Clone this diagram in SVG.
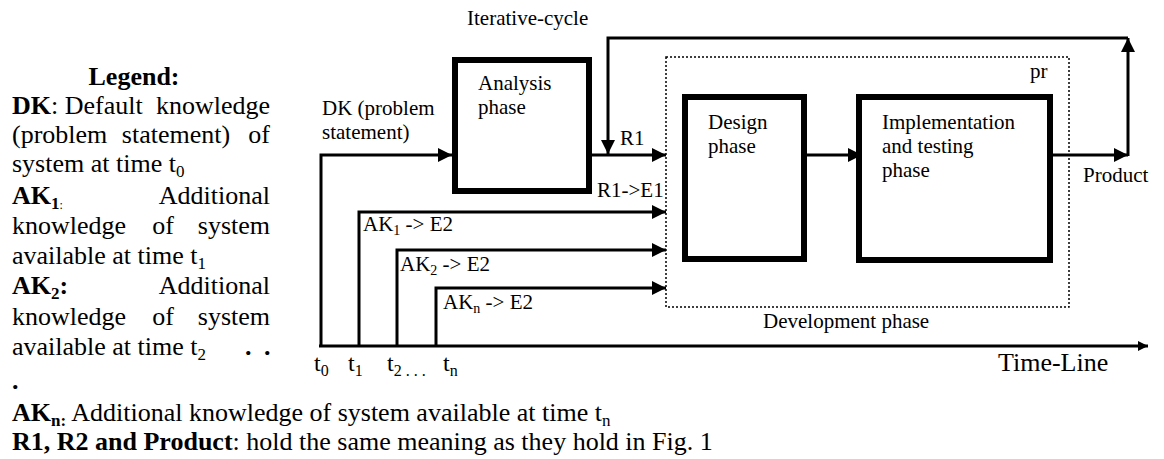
<svg xmlns="http://www.w3.org/2000/svg" width="1164" height="459" viewBox="0 0 1164 459" font-family="'Liberation Serif','Times New Roman',serif">
<style>
text{font-family:"Liberation Serif","Times New Roman",serif;fill:#000}
.lg{font-family:"Liberation Serif","Times New Roman",serif;font-size:26px}
.dg{font-family:"Liberation Serif","Times New Roman",serif;font-size:21px}
.b{font-weight:bold}
.conn{fill:none;stroke:#000;stroke-width:3}
.box{fill:#fff;stroke:#000;stroke-width:6}
.dot{fill:none;stroke:#000;stroke-width:1.5;stroke-dasharray:2 2}
</style>
<defs>
<marker id="ah" viewBox="0 0 10 10" refX="10" refY="5" markerUnits="userSpaceOnUse" markerWidth="15" markerHeight="14" orient="auto"><path d="M0,0 L10,5 L0,10 z" fill="#000"/></marker>
<marker id="ahs" viewBox="0 0 10 10" refX="10" refY="5" markerUnits="userSpaceOnUse" markerWidth="11" markerHeight="10" orient="auto"><path d="M0,0 L10,5 L0,10 z" fill="#000"/></marker>
</defs>
<rect width="1164" height="459" fill="#fff"/>

<g id="legend" class="lg">
<text x="134" y="85" text-anchor="middle" class="b">Legend:</text>
<text y="114"><tspan x="12" class="b">DK</tspan>: Default<tspan x="270" text-anchor="end">knowledge</tspan></text>
<text y="143"><tspan x="12">(problem</tspan><tspan x="176" text-anchor="middle">statement)</tspan><tspan x="270" text-anchor="end">of</tspan></text>
<text y="172"><tspan x="12">system at time t</tspan><tspan font-size="17" dy="5">0</tspan></text>
<text y="204"><tspan x="12" class="b">AK</tspan><tspan class="b" font-size="17" dy="5">1</tspan><tspan font-size="12">:</tspan><tspan x="270" y="204" text-anchor="end">Additional</tspan></text>
<text y="234"><tspan x="12">knowledge</tspan><tspan x="163" text-anchor="middle">of</tspan><tspan x="270" text-anchor="end">system</tspan></text>
<text y="264"><tspan x="12">available at time t</tspan><tspan font-size="17" dy="5">1</tspan></text>
<text y="294"><tspan x="12" class="b">AK</tspan><tspan class="b" font-size="17" dy="5">2</tspan><tspan class="b" dy="-5">:</tspan><tspan x="270" text-anchor="end">Additional</tspan></text>
<text y="325"><tspan x="12">knowledge</tspan><tspan x="163" text-anchor="middle">of</tspan><tspan x="270" text-anchor="end">system</tspan></text>
<text y="355"><tspan x="12">available at time t</tspan><tspan font-size="17" dy="5">2</tspan><tspan x="245" y="355" class="b">.</tspan><tspan x="264" y="355" class="b">.</tspan></text>
<text x="12" y="389" class="b">.</text>
<text y="421"><tspan x="12" class="b">AK</tspan><tspan class="b" font-size="17" dy="5">n:</tspan><tspan dy="-5"> Additional knowledge of system available at time t</tspan><tspan font-size="17" dy="5">n</tspan></text>
<text y="450"><tspan x="12" class="b">R1, R2 and Product</tspan>:  hold the same meaning as they hold in Fig. 1</text>
</g>

<g id="development-phase">
<rect class="dot" x="666" y="57" width="403" height="250"/>
<text class="dg" x="1030" y="78">pr</text>
<text class="dg" x="763" y="328">Development phase</text>
</g>

<g id="analysis-phase">
<rect class="box" x="455" y="60" width="134" height="131"/>
<text class="dg" x="478" y="90">Analysis</text>
<text class="dg" x="478" y="114">phase</text>
</g>

<g id="design-phase">
<rect class="box" x="685" y="97" width="119" height="162"/>
<text class="dg" x="708" y="129">Design</text>
<text class="dg" x="708" y="153">phase</text>
</g>

<g id="implementation-phase">
<rect class="box" x="859" y="97" width="191" height="163"/>
<text class="dg" x="882" y="129">Implementation</text>
<text class="dg" x="882" y="153">and testing</text>
<text class="dg" x="882" y="177">phase</text>
</g>

<g id="connectors">
<path class="conn" d="M321,345 V155 H452" marker-end="url(#ah)"/>
<path class="conn" d="M592,155 H666" marker-end="url(#ah)"/>
<path class="conn" d="M807,155 H862" marker-end="url(#ah)"/>
<path class="conn" d="M1053,155 H1128" marker-end="url(#ah)"/>
<path class="conn" d="M1128,156 V38" marker-end="url(#ah)"/>
<path class="conn" stroke-width="2.5" d="M1128,38 H608 V154" marker-end="url(#ah)"/>
<path class="conn" d="M359,345 V212 H666" marker-end="url(#ah)"/>
<path class="conn" d="M397,345 V250 H666" marker-end="url(#ah)"/>
<path class="conn" d="M436,345 V288 H666" marker-end="url(#ah)"/>
<path class="conn" stroke-width="4.5" d="M319,346 H1148" marker-end="url(#ahs)"/>
<text class="dg" x="467" y="25">Iterative-cycle</text>
<text class="dg" x="322" y="115">DK (problem</text>
<text class="dg" x="322" y="139">statement)</text>
<text class="dg" x="620" y="145">R1</text>
<text class="dg" x="597" y="197">R1-&gt;E1</text>
<text class="dg" x="1083" y="182">Product</text>
<text class="dg" y="231"><tspan x="363">AK</tspan><tspan font-size="14" dy="4">1</tspan><tspan dy="-4"> -&gt; E2</tspan></text>
<text class="dg" y="271"><tspan x="400">AK</tspan><tspan font-size="14" dy="4">2</tspan><tspan dy="-4"> -&gt; E2</tspan></text>
<text class="dg" y="309"><tspan x="443">AK</tspan><tspan font-size="14" dy="4">n</tspan><tspan dy="-4"> -&gt; E2</tspan></text>
<text class="lg" x="998" y="371">Time-Line</text>
<text y="371" font-size="24"><tspan x="314">t</tspan><tspan font-size="16" dy="5">0</tspan><tspan x="348" y="371">t</tspan><tspan font-size="16" dy="5">1</tspan><tspan x="387" y="371">t</tspan><tspan font-size="16" dy="5">2</tspan><tspan font-size="16"> . . .</tspan><tspan x="443" y="371">t</tspan><tspan font-size="16" dy="5">n</tspan></text>
</g>
</svg>
